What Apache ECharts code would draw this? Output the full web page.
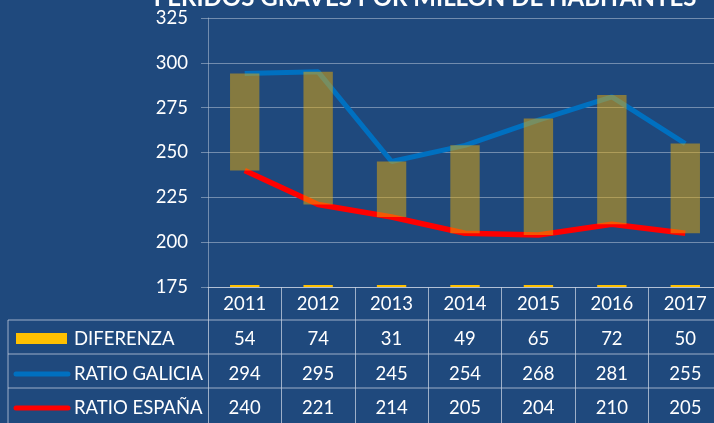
<!DOCTYPE html>
<html>
<head>
<meta charset="utf-8">
<script src="https://cdn.jsdelivr.net/npm/echarts@6/dist/echarts.min.js"></script>
<style>
  html, body { margin: 0; padding: 0; background: #1F497D; }
  #chart { width: 714px; height: 423px; }
</style>
</head>
<body>
<div id="chart"></div>
<script>
// datos
const years = ['2011', '2012', '2013', '2014', '2015', '2016', '2017'];
const diferenza = [54, 74, 31, 49, 65, 72, 50];
const ratioGalicia = [294, 295, 245, 254, 268, 281, 255];
const ratioEspana = [240, 221, 214, 205, 204, 210, 205];
const yTicks = { min: 175, max: 325, interval: 25 };

const gridTop = 18, gridBottomPx = 287;
const lineCol = 'rgba(200,210,225,0.75)';
const gridCol = 'rgba(180,195,215,0.55)';
const font = 'Lato, "Open Sans", sans-serif';
const tableFont = 18.5;

// eje de fila da táboa (valores debaixo de cada ano)
function rowAxis(values, offset) {
    return {
        type: 'category',
        position: 'bottom',
        offset: offset,
        data: values.map(String),
        axisLine: { show: false },
        axisTick: { show: false },
        axisLabel: { color: '#fff', fontSize: tableFont, fontFamily: font, margin: 8 }
    };
}

const chart = echarts.init(document.getElementById('chart'));
chart.setOption({
    backgroundColor: '#1F497D',
    animation: false,
    title: {
        text: 'FERIDOS GRAVES POR MILLÓN DE HABITANTES',
        left: 420,
        top: -19,
        textAlign: 'center',
        textStyle: { color: '#fff', fontSize: 24, fontWeight: 'bold', fontFamily: font }
    },
    grid: { left: 208, top: gridTop, right: -8, bottom: 423 - gridBottomPx, containLabel: false, outerBoundsMode: 'none' },
    xAxis: [{
        type: 'category',
        data: years,
        axisLine: { show: true, lineStyle: { color: lineCol, width: 1 } },
        axisTick: { show: true, length: 136, interval: 0, lineStyle: { color: lineCol, width: 1 } },
        axisLabel: { color: '#fff', fontSize: tableFont, fontFamily: font, margin: 8 }
    },
        rowAxis(diferenza, 35),
        rowAxis(ratioGalicia, 70),
        rowAxis(ratioEspana, 104)
    ],
    yAxis: {
        type: 'value',
        min: yTicks.min,
        max: yTicks.max,
        interval: yTicks.interval,
        axisLine: { show: true, lineStyle: { color: gridCol } },
        axisTick: { show: true, length: 7, lineStyle: { color: gridCol } },
        splitLine: { lineStyle: { color: gridCol, width: 1 } },
        axisLabel: { color: '#fff', fontSize: tableFont, fontFamily: font, margin: 20 }
    },
    series: [{
        name: 'RATIO GALICIA',
        type: 'line',
        data: ratioGalicia,
        symbol: 'none',
        z: 2,
        lineStyle: { color: '#0070C0', width: 5 }
    }, {
        name: 'RATIO ESPAÑA',
        type: 'line',
        data: ratioEspana,
        symbol: 'none',
        z: 2,
        lineStyle: { color: '#FF0000', width: 5.5 }
    }, {
        // base invisible ata o ratio de España, cunha marca amarela no eixo
        name: 'base',
        type: 'bar',
        stack: 'dif',
        data: ratioEspana,
        barWidth: '40%',
        z: 3,
        itemStyle: {
            color: {
                type: 'linear', global: true,
                x: 0, y: gridBottomPx, x2: 0, y2: gridBottomPx - 2,
                colorStops: [
                    { offset: 0, color: '#FFC000' },
                    { offset: 0.99, color: '#FFC000' },
                    { offset: 1, color: 'rgba(0,0,0,0)' }
                ]
            }
        }
    }, {
        name: 'DIFERENZA',
        type: 'bar',
        stack: 'dif',
        data: diferenza,
        barWidth: '40%',
        z: 3,
        itemStyle: { color: 'rgba(235,171,3,0.5)' }
    }],
    graphic: [
        // liñas horizontais da táboa
        { type: 'line', shape: { x1: 8, y1: 320, x2: 714, y2: 320 }, style: { stroke: lineCol, lineWidth: 1 } },
        { type: 'line', shape: { x1: 8, y1: 354, x2: 714, y2: 354 }, style: { stroke: lineCol, lineWidth: 1 } },
        { type: 'line', shape: { x1: 8, y1: 388, x2: 714, y2: 388 }, style: { stroke: lineCol, lineWidth: 1 } },
        { type: 'line', shape: { x1: 8, y1: 320, x2: 8, y2: 423 }, style: { stroke: lineCol, lineWidth: 1 } },
        // lenda da táboa
        { type: 'rect', shape: { x: 16, y: 333, width: 51, height: 11 }, style: { fill: '#FFC000' } },
        { type: 'line', shape: { x1: 16, y1: 374, x2: 68, y2: 374 }, style: { stroke: '#0070C0', lineWidth: 5, lineCap: 'round' } },
        { type: 'line', shape: { x1: 16, y1: 408, x2: 68, y2: 408 }, style: { stroke: '#FF0000', lineWidth: 5, lineCap: 'round' } },
        { type: 'text', x: 74, y: 339, style: { text: 'DIFERENZA', fill: '#fff', font: tableFont + 'px ' + font, textVerticalAlign: 'middle' } },
        { type: 'text', x: 74, y: 374, style: { text: 'RATIO GALICIA', fill: '#fff', font: tableFont + 'px ' + font, textVerticalAlign: 'middle' } },
        { type: 'text', x: 74, y: 408, style: { text: 'RATIO ESPAÑA', fill: '#fff', font: tableFont + 'px ' + font, textVerticalAlign: 'middle' } }
    ]
});
</script>
</body>
</html>
